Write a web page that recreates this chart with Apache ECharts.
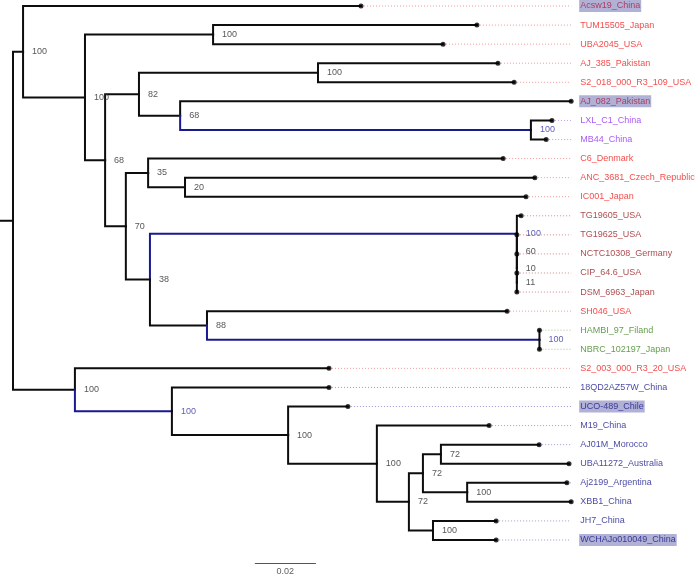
<!DOCTYPE html>
<html><head><meta charset="utf-8">
<script src="https://cdn.jsdelivr.net/npm/echarts@6/dist/echarts.min.js"></script>
<style>html,body{margin:0;padding:0;background:#fff}#c{width:696px;height:577px}</style>
</head><body><div id="c"></div>
<script>
// ---- data ----
const leafNames = ['Acsw19_China','TUM15505_Japan','UBA2045_USA','AJ_385_Pakistan','S2_018_000_R3_109_USA',
  'AJ_082_Pakistan','LXL_C1_China','MB44_China','C6_Denmark','ANC_3681_Czech_Republic','IC001_Japan',
  'TG19605_USA','TG19625_USA','NCTC10308_Germany','CIP_64.6_USA','DSM_6963_Japan','SH046_USA',
  'HAMBI_97_Filand','NBRC_102197_Japan','S2_003_000_R3_20_USA','18QD2AZ57W_China','UCO-489_Chile',
  'M19_China','AJ01M_Morocco','UBA11272_Australia','Aj2199_Argentina','XBB1_China','JH7_China','WCHAJo010049_China'];
// distance of each tip from the root
const leafDepths = [0.1141,0.1521,0.1410,0.1590,0.1643,0.1830,0.1767,0.1748,0.1607,0.1711,0.1682,
  0.1666,0.1652,0.1652,0.1652,0.1652,0.1620,0.1726,0.1726,0.1036,0.1036,0.1098,
  0.1561,0.1725,0.1823,0.1816,0.1830,0.1584,0.1584];
const leafGroups = ['red','red','red','red','red','red','purple','purple','red','red','red',
  'maroon','maroon','maroon','maroon','maroon','red','green','green','red','navy','navy',
  'navy','navy','navy','navy','navy','navy','navy'];
const highlightedLeaves = [0,5,21,28];
// internal nodes: id, distance from root, support, children (leaf index or node id)
const nodeIds      = ['root','N1','N2','N3','N4','N5','N7','N8','N9','N6','N10','N12','N11','N13','N13b','N13c','N13d','N14','N15','N16','N17','N18','N19','N20','N21','N23','N24','N22'];
const nodeDepths   = [0,0.0033,0.0236,0.0656,0.0302,0.0413,0.1000,0.0548,0.1698,0.0370,0.0443,0.0564,0.0449,0.1652,0.1652,0.1652,0.1652,0.0636,0.1726,0.0203,0.0521,0.0902,0.1193,0.1298,0.1344,0.1403,0.1489,0.1377];
const nodeSupports = ['', '100','100','100','68','82','100','68','100','70','35','20','38','100','60','10','11','88','100','100','100','100','100','72','72','72','100','100'];
const nodeChildren = [['N1','N16'],[0,'N2'],['N3','N4'],[1,2],['N5','N6'],['N7','N8'],[3,4],[5,'N9'],[6,7],
  ['N10','N11'],[8,'N12'],[9,10],['N13','N14'],[11,'N13b'],[12,'N13c'],[13,'N13d'],[14,15],[16,'N15'],[17,18],
  [19,'N17'],[20,'N18'],[21,'N19'],[22,'N20'],['N21','N22'],['N23','N24'],[23,24],[25,26],[27,28]];
const blueBranches = ['N9','N13','N15','N17'];
const scaleBarLength = 0.02;
const scaleBarLabel = '0.02';

// ---- styles / layout ----
const textColor = {red:'#f21c1c', purple:'#9430f0', maroon:'#981e22', green:'#3f8420', navy:'#16168a'};
const leaderColor = {red:'#f29a9a', purple:'#c49cf0', maroon:'#cc8a8a', green:'#a2c492', navy:'#9a9ad6'};
const hlText = {red:'#aa2046', navy:'#16168a'};
const BLUE = '#1a1a90', BLACK = '#0d0d0d';
const xMin = -0.00426, xMax = 0.22393;
const scaleBarStart = 0.0793, scaleBarRow = 29.2;
const FONT = '"Liberation Sans", Arial, sans-serif';

const idx = {}; nodeIds.forEach((id,i)=>idx[id]=i);
function yOf(c){ if (typeof c === 'number') return c;
  const k = nodeChildren[idx[c]]; return k.map(yOf).reduce((a,b)=>a+b,0)/k.length; }
function xOf(c){ return typeof c === 'number' ? leafDepths[c] : nodeDepths[idx[c]]; }

const edges = [];
nodeIds.forEach((id,i)=>{
  const px = nodeDepths[i], py = yOf(id);
  nodeChildren[i].forEach(c=>{
    const cx = xOf(c), cy = yOf(c);
    const blue = typeof c === 'string' && blueBranches.includes(c);
    edges.push({coords:[[px,py],[px,cy],[cx,cy]], lineStyle:{color: blue?BLUE:BLACK}});
  });
});
const rootY = yOf('root');
edges.push({coords:[[xMin,rootY],[0,rootY]], lineStyle:{color:BLACK}});

const maxDepth = Math.max(...leafDepths);
const leaders = leafNames.map((n,i)=>({coords:[[leafDepths[i],i],[maxDepth,i]], lineStyle:{color:leaderColor[leafGroups[i]]}}));
const tips = leafNames.map((n,i)=>[leafDepths[i], i]);

const leafLabels = leafNames.map((n,i)=>{
  const hl = highlightedLeaves.includes(i);
  const g = leafGroups[i];
  return {value:[maxDepth,i], name:n, label:{
    color: hl ? (hlText[g]||textColor[g]) : textColor[g],
    backgroundColor: hl ? '#9d9dca' : 'transparent',
    padding: [2,1,1,1]
  }};
});

const supLabels = [];
nodeIds.forEach((id,i)=>{
  if (!nodeSupports[i]) return;
  supLabels.push({value:[nodeDepths[i], yOf(id)], name:nodeSupports[i],
    label:{color: blueBranches.includes(id) ? '#3434a4' : '#2a2a2a'}});
});

const chart = echarts.init(document.getElementById('c'), null, {renderer:'canvas'});
chart.setOption({
  animation:false,
  grid:{left:0,right:0,top:6,bottom:37},
  xAxis:{type:'value',min:xMin,max:xMax,show:false},
  yAxis:{type:'value',min:0,max:28,inverse:true,show:false},
  series:[
    {type:'lines',coordinateSystem:'cartesian2d',polyline:true,clip:false,silent:true,
     lineStyle:{width:1,type:[1,2],opacity:1},data:leaders},
    {type:'lines',coordinateSystem:'cartesian2d',polyline:true,clip:false,silent:true,
     lineStyle:{width:2,opacity:1,join:'miter',cap:'square'},data:edges},
    {type:'scatter',clip:false,silent:true,symbol:'circle',symbolSize:5,itemStyle:{color:'#000'},data:tips},
    {type:'scatter',clip:false,silent:true,symbolSize:0,data:leafLabels,
     label:{show:true,position:'right',distance:8,fontSize:9,fontFamily:FONT,formatter:p=>p.name}},
    {type:'scatter',clip:false,silent:true,symbolSize:0,data:supLabels,
     label:{show:true,position:'right',distance:9,fontSize:9,fontFamily:FONT,formatter:p=>p.name}},
    {type:'lines',coordinateSystem:'cartesian2d',clip:false,silent:true,
     lineStyle:{width:1.2,color:'#555',opacity:1},
     data:[{coords:[[scaleBarStart,scaleBarRow],[scaleBarStart+scaleBarLength,scaleBarRow]]}]},
    {type:'scatter',clip:false,silent:true,symbolSize:0,
     data:[{value:[scaleBarStart+scaleBarLength/2,scaleBarRow],name:scaleBarLabel}],
     label:{show:true,position:'bottom',distance:4,fontSize:9,fontFamily:FONT,color:'#333',formatter:p=>p.name}}
  ]
});
</script></body></html>
